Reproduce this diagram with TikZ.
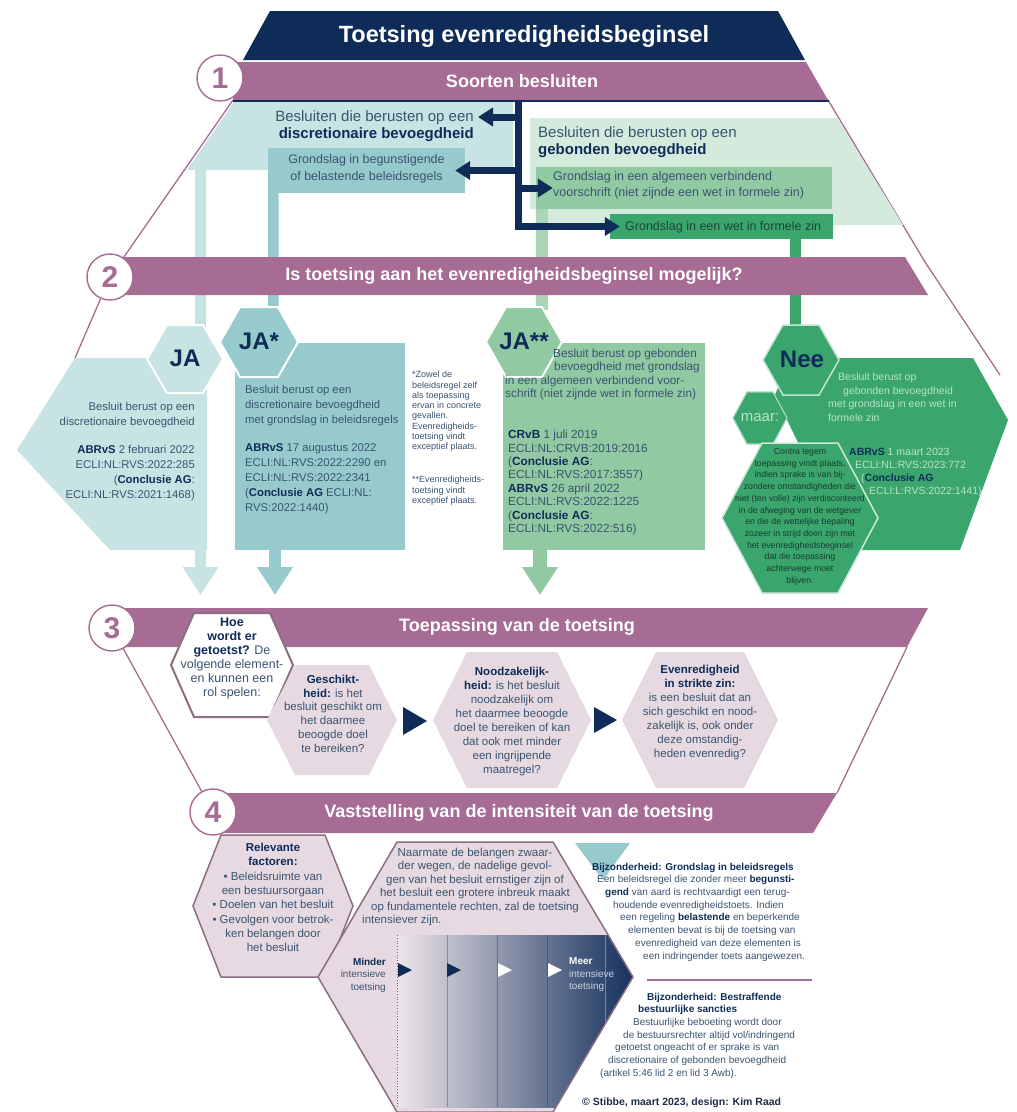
\documentclass[tikz,border=0pt]{standalone}
\usepackage{fontspec}
\setmainfont{Liberation Sans}
\usetikzlibrary{arrows.meta}
\definecolor{navy}{HTML}{0F2C59}
\definecolor{mauve}{HTML}{A66C93}
\definecolor{paleteal}{HTML}{C8E3E3}
\definecolor{midteal}{HTML}{96CACC}
\definecolor{palegreen}{HTML}{D4EADC}
\definecolor{midgreen}{HTML}{90C9A2}
\definecolor{stemgreen}{HTML}{A8D6B6}
\definecolor{darkgreen}{HTML}{3AA56C}
\definecolor{lightmauve}{HTML}{E7D9E1}
\definecolor{txt}{HTML}{3A5470}
\definecolor{mint}{HTML}{B9E3CA}
\definecolor{hexline}{HTML}{8C6E83}
\definecolor{wettxt}{HTML}{1C4638}
\definecolor{contratxt}{HTML}{173D30}
\definecolor{gradleft}{HTML}{EEE5EA}
\definecolor{meerlight}{HTML}{C9D2E2}
\definecolor{copyc}{HTML}{1F2E47}
\newcommand\fsz[2]{\fontsize{#1}{#2}\selectfont}
\newcommand\bnv[1]{\textbf{\color{navy}#1}}
\newcommand\hexpoly[6]{\path[#1] ({#2-#4},#3) -- ({#2-#4+#6},{#3-#5}) -- ({#2+#4-#6},{#3-#5}) -- ({#2+#4},#3) -- ({#2+#4-#6},{#3+#5}) -- ({#2-#4+#6},{#3+#5}) -- cycle;}
\begin{document}
\begin{tikzpicture}[x=1pt,y=-1pt,
  outer/.style={draw=mauve, line width=1.3pt},
  bandtxt/.style={text=white, inner sep=0pt, font=\bfseries\fsz{18}{18}},
  numc/.style={circle, draw=mauve, line width=1.4pt, fill=white, minimum size=46pt, inner sep=0pt, text=mauve, font=\bfseries\fsz{30}{30}},
  tx/.style={inner sep=0pt, text=txt},
  navyarr/.style={draw=navy, line width=7pt, -{Triangle[length=15pt,width=18pt]}},
  bigarr/.style={-{Triangle[length=28pt,width=34pt]}},
  hexlbl/.style={inner sep=0pt, text=navy, font=\bfseries\fsz{24}{24}},
]
\useasboundingbox (0,0) rectangle (1017,1112);
\fill[white] (0,0) rectangle (1017,1112);

% outer contour
\draw[outer] (233,100) -- (110,277) -- (75,358);
\draw[outer] (828,100) -- (925,262) -- (1000,375);
\draw[outer] (907,647) -- (837,793);
\draw[outer] (112,628) -- (213,812);

% header
\fill[navy] (270,11) -- (778,11) -- (805,60) -- (243,60) -- cycle;
\node[inner sep=0pt, text=white, font=\bfseries\fsz{23.5}{23.5}] (title) at (524,36) {Toetsing evenredigheidsbeginsel};

% section 1
\fill[mauve] (233,62) -- (806,62) -- (828,100) -- (233,100) -- cycle;
\draw[navy, line width=2pt] (233,101) -- (829,101);
\node[bandtxt] (s1) at (522,81) {Soorten besluiten};
\fill[paleteal] (234,102) -- (513,102) -- (513,170) -- (187,170) -- cycle;
\fill[palegreen] (530,118) -- (837,118) -- (903,225) -- (548,225) -- (548,209) -- (530,209) -- cycle;

\node[fill=midteal, minimum width=197pt, minimum height=45pt, inner sep=0pt] (begbox) at (366.5,170.5) {};
\node[fill=midgreen, minimum width=296pt, minimum height=42pt, inner sep=0pt] (algbox) at (684,188) {};
\node[fill=darkgreen, minimum width=223pt, minimum height=25pt, inner sep=0pt] (wetbox) at (721.5,226.5) {};

% stems
\coordinate (jatip) at (200.5,595);
\draw[paleteal, line width=11pt, bigarr] (200.5,170) -- (jatip);
\draw[midteal, line width=10.5pt] ([xshift=5.5pt]begbox.south west) -- (273.5,344);
\draw[stemgreen, line width=12pt] ([xshift=6pt]algbox.south west) -- (542,310);
\draw[darkgreen, line width=11pt] ([xshift=73.5pt]wetbox.south) -- (795,327);

% section 1 texts
\coordinate (trunk) at (518,101);
\coordinate (disctip) at (478,117);
\node[tx, align=right, anchor=north east, font=\fsz{15}{16.7}] (disc) at (474,110.5) {Besluiten die berusten op een\\\bnv{discretionaire bevoegdheid}};
\node[tx, align=left, anchor=north west, font=\fsz{15}{16.7}] (geb) at (538,126.5) {Besluiten die berusten op een\\\bnv{gebonden bevoegdheid}};
\node[tx, align=center, font=\fsz{12.5}{17}] (begtxt) at ([yshift=2pt]begbox.center) {Grondslag in begunstigende\\of belastende beleidsregels};
\node[tx, align=left, anchor=west, font=\fsz{12.5}{16}] (algtxt) at (553,185) {Grondslag in een algemeen verbindend\\voorschrift (niet zijnde een wet in formele zin)};
\node[tx, anchor=west, text=wettxt, font=\fsz{12.5}{12.5}] (wettxt) at (625,227) {Grondslag in een wet in formele zin};

% navy connectors
\draw[navyarr] (trunk) -- (trunk |- wetbox.west) -- ([xshift=10pt]wetbox.west);
\draw[navyarr] (trunk |- algbox.west) -- ([xshift=17pt]algbox.west);
\draw[navyarr] (trunk |- begbox.east) -- ([xshift=-10pt]begbox.east);
\draw[navyarr] (trunk |- disctip) -- (disctip);

% band 2
\fill[mauve] (110,257) -- (905,257) -- (928,295) -- (110,295) -- cycle;
\node[bandtxt] (s2) at (514,276) {Is toetsing aan het evenredigheidsbeginsel mogelijk?};

% section 2 regions
\fill[paleteal] (75,358) -- (207,358) -- (207,550) -- (110,550) -- (17,450) -- cycle;
\node[fill=midteal, minimum width=170pt, minimum height=207pt, inner sep=0pt] (jasbox) at (320,446.5) {};
\node[fill=midgreen, minimum width=202pt, minimum height=207pt, inner sep=0pt] (jassbox) at (604,446.5) {};
\fill[darkgreen] (790,358) -- (973,358) -- (1008,420) -- (960,550) -- (850,550) -- (775,395) -- cycle;

\coordinate (jastip) at (275,595);
\coordinate (jasstip) at (540,595);
\draw[midteal, line width=12pt, bigarr] ([xshift=-45pt,yshift=1pt]jasbox.south) -- (jastip);
\draw[midgreen, line width=14pt, bigarr] ([xshift=-64pt,yshift=1pt]jassbox.south) -- (jasstip);

% section 2 hexes
\hexpoly{fill=paleteal, draw=white, line width=2pt}{185}{359}{38}{34}{20}
\hexpoly{fill=midteal, draw=white, line width=2pt}{259}{342}{39}{35}{20}
\hexpoly{fill=midgreen, draw=white, line width=2pt}{524}{342}{38}{35}{20}
\hexpoly{fill=darkgreen, draw=white!70!darkgreen, line width=1.5pt}{801}{360}{38}{35}{20}
\hexpoly{fill=darkgreen, draw=white!55!darkgreen, line width=1.2pt}{760}{418}{27}{26}{14}
\hexpoly{fill=darkgreen, draw=white!75!darkgreen, line width=1.5pt}{800}{518}{78}{75}{40}

\node[hexlbl] (ja) at (185,358) {JA};
\node[hexlbl] (jas) at (259,341) {JA*};
\node[hexlbl] (jass) at (524,341) {JA**};
\node[hexlbl] (nee) at (802,359) {Nee};
\node[inner sep=0pt, text=mint, font=\fsz{15}{15}] (maar) at (760,418) {maar:};

% section 2 texts
\node[tx, align=right, anchor=north east, font=\fsz{11.3}{15}] (jatxt1) at (195,402) {Besluit berust op een\\discretionaire bevoegdheid};
\node[tx, align=right, anchor=north east, font=\fsz{11.3}{15}] (jatxt2) at (195,445) {\bnv{ABRvS} 2 februari 2022\\ECLI:NL:RVS:2022:285\\(\bnv{Conclusie AG}:\\ECLI:NL:RVS:2021:1468)};
\node[tx, align=left, anchor=north west, font=\fsz{11.3}{15}] (jastxt1) at (245,385) {Besluit berust op een\\discretionaire bevoegdheid\\met grondslag in beleidsregels};
\node[tx, align=left, anchor=north west, font=\fsz{11.3}{15}] (jastxt2) at (245,443) {\bnv{ABRvS} 17 augustus 2022\\ECLI:NL:RVS:2022:2290 en\\ECLI:NL:RVS:2022:2341\\(\bnv{Conclusie AG} ECLI:NL:\\RVS:2022:1440)};
\node[tx, align=left, anchor=north west, font=\fsz{9}{10.3}] (note1) at (412,371) {*Zowel de\\beleidsregel zelf\\als toepassing\\ervan in concrete\\gevallen.\\Evenredigheids-\\toetsing vindt\\exceptief plaats.};
\node[tx, align=left, anchor=north west, font=\fsz{9}{10.3}] (note2) at (412,476) {**Evenredigheids-\\toetsing vindt\\exceptief plaats.};
\node[tx, align=left, anchor=north west, font=\fsz{11.8}{13.5}] (jasstxt1) at (505,348.5) {\hspace*{48pt}Besluit berust op gebonden\\\hspace*{49pt}bevoegdheid met grondslag\\in een algemeen verbindend voor-\\schrift (niet zijnde wet in formele zin)};
\node[tx, align=left, anchor=north west, font=\fsz{11.8}{13.4}] (jasstxt2) at (508,430) {\bnv{CRvB} 1 juli 2019\\ECLI:NL:CRVB:2019:2016\\(\bnv{Conclusie AG}:\\ECLI:NL:RVS:2017:3557)\\\bnv{ABRvS} 26 april 2022\\ECLI:NL:RVS:2022:1225\\(\bnv{Conclusie AG}:\\ECLI:NL:RVS:2022:516)};
\node[tx, text=mint, align=left, anchor=north west, font=\fsz{10.5}{13.7}] (neetxt1) at (828,372.5) {\hspace*{10pt}Besluit berust op\\\hspace*{15pt}gebonden bevoegdheid\\met grondslag in een wet in\\formele zin};
\node[tx, text=mint, align=left, anchor=north west, font=\fsz{10.5}{13.3}] (neetxt2) at (849,447.5) {\bnv{ABRvS} 1 maart 2023\\\hspace*{6pt}ECLI:NL:RVS:2023:772\\\hspace*{12pt}(\bnv{Conclusie AG}\\\hspace*{20pt}ECLI:L:RVS:2022:1441)};
\node[tx, text=contratxt, align=center, anchor=north, font=\fsz{8.7}{11.7}] (contra) at (800,448) {Contra legem\\toepassing vindt plaats,\\indien sprake is van bij-\\zondere omstandigheden die\\niet (ten volle) zijn verdisconteerd\\in de afweging van de wetgever\\en die de wettelijke bepaling\\zozeer in strijd doen zijn met\\het evenredigheidsbeginsel\\dat die toepassing\\achterwege moet\\blijven.};

% band 3 and 4
\fill[mauve] (112,608) -- (928,608) -- (907,647) -- (112,647) -- cycle;
\node[bandtxt] (s3) at (517,627) {Toepassing van de toetsing};
\fill[mauve] (213,793) -- (837,793) -- (813,833) -- (213,833) -- cycle;
\node[bandtxt] (s4) at (519,813) {Vaststelling van de intensiteit van de toetsing};

% circles
\node[numc] (c1) at (220,78) {1};
\node[numc] (c2) at (110,277) {2};
\node[numc] (c3) at (112,628) {3};
\node[numc] (c4) at (213,812) {4};

% section 3
\hexpoly{fill=white, draw=hexline, line width=2pt}{232}{665}{61}{52}{23}
\hexpoly{fill=lightmauve}{332}{720}{65}{55}{28}
\hexpoly{fill=lightmauve}{512}{720}{79}{68}{34}
\hexpoly{fill=lightmauve}{700}{720}{78}{68}{34}
\fill[navy] (403,707) -- (427,721) -- (403,735) -- cycle;
\fill[navy] (594,707) -- (617,720) -- (594,733) -- cycle;

\node[tx, align=center, anchor=north, font=\fsz{12.5}{14}] (hoe) at (232,617.6) {\bnv{Hoe}\\\bnv{wordt er}\\\bnv{getoetst?} De\\volgende element-\\en kunnen een\\rol spelen:};
\node[tx, align=center, anchor=north, font=\fsz{11.5}{13.7}] (gesch) at (333,675) {\bnv{Geschikt-}\\\bnv{heid:} is het\\besluit geschikt om\\het daarmee\\beoogde doel\\te bereiken?};
\node[tx, align=center, anchor=north, font=\fsz{11.5}{14}] (nood) at (512,667) {\bnv{Noodzakelijk-}\\\bnv{heid:} is het besluit\\noodzakelijk om\\het daarmee beoogde\\doel te bereiken of kan\\dat ook met minder\\een ingrijpende\\maatregel?};
\node[tx, align=center, anchor=north, font=\fsz{11.5}{14}] (even) at (700,665) {\bnv{Evenredigheid}\\\bnv{in strikte zin:}\\is een besluit dat an\\sich geschikt en nood-\\zakelijk is, ook onder\\deze omstandig-\\heden evenredig?};

% section 4
\hexpoly{fill=lightmauve, draw=hexline, line width=1.5pt}{273}{906}{80}{71}{28}
\fill[lightmauve] (318,977) -- (397,842) -- (553,842) -- (633,977) -- (553,1112) -- (397,1112) -- cycle;
\begin{scope}
\clip (318,977) -- (397,842) -- (553,842) -- (633,977) -- (553,1112) -- (397,1112) -- cycle;
\shade[left color=gradleft, right color=navy] (397,935) rectangle (640,1107);
\draw[navy!70, dotted, line width=0.8pt] (397,935) -- (397,1107);
\foreach \xx in {447,497,547} \draw[navy, opacity=0.35, line width=0.6pt] (\xx,935) -- (\xx,1107);
\draw[white, opacity=0.35, line width=0.6pt] (605,935) -- (605,1107);
\foreach \xx/\cc in {398/navy,447/navy,498/white,548/white} \fill[\cc] (\xx,963) -- ({\xx+14},970) -- (\xx,977) -- cycle;
\end{scope}
\draw[hexline, line width=1.5pt] (318,977) -- (397,842) -- (553,842) -- (633,977) -- (553,1112) -- (397,1112) -- cycle;
\fill[midteal] (575,843) -- (630,843) -- (603,880) -- cycle;

\node[tx, align=center, anchor=north, font=\fsz{11.5}{14.3}] (relev) at (273,843) {\bnv{Relevante}\\\bnv{factoren:}\\• Beleidsruimte van\\een bestuursorgaan\\• Doelen van het besluit\\• Gevolgen voor betrok-\\ken belangen door\\het besluit};
\node[tx, align=center, anchor=north, font=\fsz{11.5}{13.4}] (naarm) at (475,848) {Naarmate de belangen zwaar-\\der wegen, de nadelige gevol-\\gen van het besluit ernstiger zijn of\\het besluit een grotere inbreuk maakt\\op fundamentele rechten, zal de toetsing};
\node[tx, anchor=north west, font=\fsz{11.5}{13.4}] (naarm2) at (362,915) {intensiever zijn.};
\node[tx, align=right, anchor=north east, font=\fsz{10}{12.5}] (minder) at (386,957.7) {\bnv{Minder}\\intensieve\\toetsing};
\node[tx, text=meerlight, align=left, anchor=north west, font=\fsz{10}{12.5}] (meer) at (569,957.7) {\textbf{\color{white}Meer}\\intensieve\\toetsing};

\node[tx, align=left, anchor=north west, font=\fsz{10}{12.7}] (bijz1) at (592,862.7) {\bnv{Bijzonderheid: Grondslag in beleidsregels}\\\hspace*{5pt}Een beleidsregel die zonder meer \bnv{begunsti-}\\\hspace*{13pt}\bnv{gend} van aard is rechtvaardigt een terug-\\\hspace*{21pt}houdende evenredigheidstoets. Indien\\\hspace*{28pt}een regeling \bnv{belastende} en beperkende\\\hspace*{36pt}elementen bevat is bij de toetsing van\\\hspace*{43pt}evenredigheid van deze elementen is\\\hspace*{51pt}een indringender toets aangewezen.};
\draw[mauve, line width=2pt] (647,980) -- (812,980);
\node[tx, align=left, anchor=north west, font=\fsz{10}{12.7}] (bijz2) at (600,992.7) {\hspace*{47pt}\bnv{Bijzonderheid: Bestraffende}\\\hspace*{38pt}\bnv{bestuurlijke sancties}\\\hspace*{33pt}Bestuurlijke beboeting wordt door\\\hspace*{23pt}de bestuursrechter altijd vol/indringend\\\hspace*{15pt}getoetst ongeacht of er sprake is van\\\hspace*{8pt}discretionaire of gebonden bevoegdheid\\(artikel 5:46 lid 2 en lid 3 Awb).};
\node[inner sep=0pt, anchor=west, text=copyc, font=\bfseries\fsz{10.5}{10.5}] (copy) at (582,1103) {© Stibbe, maart 2023, design: Kim Raad};
\end{tikzpicture}
\end{document}
